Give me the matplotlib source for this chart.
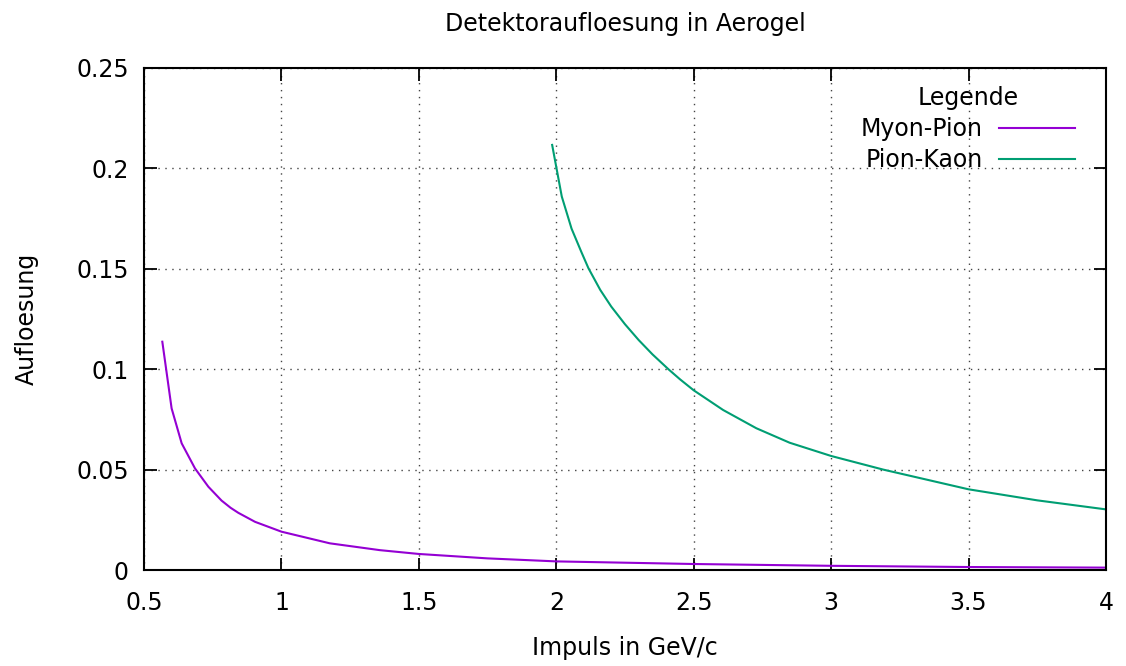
import matplotlib
matplotlib.use("Agg")
import matplotlib.pyplot as plt

# Data
p_mupi = [0.5666, 0.6004, 0.637, 0.6855, 0.734, 0.782, 0.815, 0.843, 0.904, 1.0, 1.176, 1.358, 1.5, 1.75, 2.0, 2.5, 3.0, 3.5, 4.0]
res_mupi = [0.1137, 0.0805, 0.0631, 0.0506, 0.0415, 0.0346, 0.0310, 0.0285, 0.0240, 0.0191, 0.0133, 0.0099, 0.0080, 0.0058, 0.0043, 0.0030, 0.0021, 0.0015, 0.0012]

p_pik = [1.985, 2.020, 2.0556, 2.0909, 2.117, 2.160, 2.20, 2.25, 2.30, 2.35, 2.408, 2.45, 2.5, 2.607, 2.728, 2.849, 3.0, 3.19, 3.5, 3.75, 4.0]
res_pik = [0.2117, 0.1860, 0.1700, 0.1585, 0.1503, 0.1395, 0.1312, 0.1224, 0.1145, 0.1074, 0.1000, 0.0950, 0.0895, 0.0797, 0.0706, 0.0634, 0.0568, 0.0500, 0.0402, 0.0347, 0.0302]

xticks = [0.5, 1, 1.5, 2, 2.5, 3, 3.5, 4]
xticklabels = ["0.5", "1", "1.5", "2", "2.5", "3", "3.5", "4"]
yticks = [0, 0.05, 0.1, 0.15, 0.2, 0.25]
yticklabels = ["0", "0.05", "0.1", "0.15", "0.2", "0.25"]

plt.rcParams['font.family'] = ['DejaVu Sans']
fig = plt.figure(figsize=(11.26, 6.66), dpi=100)
ax = fig.add_axes([0.1279, 0.1441, 0.9822 - 0.1279, 0.8979 - 0.1441])

ax.plot(p_mupi, res_mupi, color="#9400D3", lw=1.5, label="Myon-Pion")
ax.plot(p_pik, res_pik, color="#009E73", lw=1.5, label="Pion-Kaon")

ax.set_xlim(0.5, 4)
ax.set_ylim(0, 0.25)
ax.set_xticks(xticks)
ax.set_xticklabels(xticklabels)
ax.set_yticks(yticks)
ax.set_yticklabels(yticklabels)
ax.tick_params(direction="in", length=9, width=1.3, labelsize=17, top=True, right=True)
ax.tick_params(axis="y", pad=11)
ax.tick_params(axis="x", pad=15)
for s in ax.spines.values():
    s.set_linewidth(1.5)
ax.grid(True, color="#444444", linestyle=(0, (1, 4)), linewidth=1.0)

ax.set_title("Detektoraufloesung in Aerogel", fontsize=17, pad=26.5)
ax.set_xlabel("Impuls in GeV/c", fontsize=17, labelpad=15.5)
ax.set_ylabel("Aufloesung", fontsize=17, labelpad=27)

leg = ax.legend(title="Legende", loc="upper right", frameon=False, markerfirst=False,
                fontsize=17, title_fontsize=17, handlelength=3.2, handletextpad=0.7,
                labelspacing=0.3, borderaxespad=0.3, bbox_to_anchor=(0.985, 0.997))

fig.savefig("out.png", dpi=100)
